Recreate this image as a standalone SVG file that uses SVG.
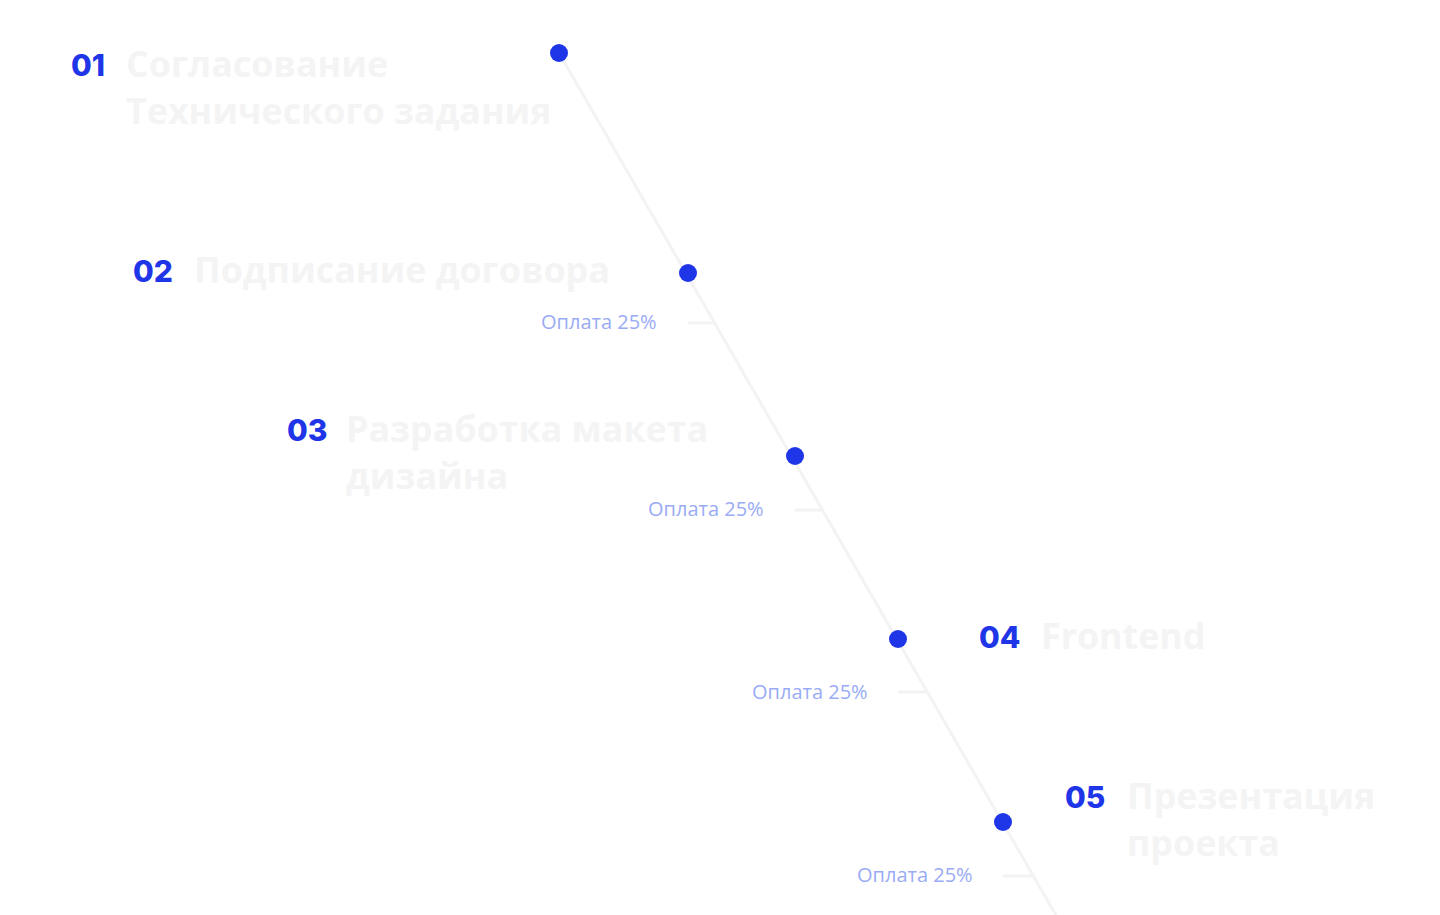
<svg xmlns="http://www.w3.org/2000/svg" width="1440" height="915" viewBox="0 0 1440 915">
<style>
.num{font-family:"Inter","Liberation Sans",sans-serif;font-weight:800;font-size:30px;fill:#1f35e8}
.title{font-family:"Open Sans","Liberation Sans",sans-serif;font-weight:700;font-size:35.8px;fill:#f4f4f4}
.pay{font-family:"Open Sans","Liberation Sans",sans-serif;font-size:20px;fill:#9aabf5}
.ln{stroke:#f3f3f3;stroke-width:3;fill:none}
.dot{fill:#1f35e8}
</style>
<rect width="1440" height="915" fill="#ffffff"/>
<g id="connectors">
<line class="ln" x1="559" y1="53" x2="1057" y2="917"/>
<line class="ln" x1="688" y1="323" x2="715" y2="323"/>
<line class="ln" x1="795" y1="510" x2="822" y2="510"/>
<line class="ln" x1="898" y1="692" x2="928" y2="692"/>
<line class="ln" x1="1003" y1="876" x2="1033" y2="876"/>
</g>
<g id="step1">
<circle class="dot" cx="559" cy="53" r="9"/>
<text class="num" x="71" y="76">01</text>
<text class="title" x="126" y="77">Согласование</text>
<text class="title" x="126" y="124">Технического задания</text>
</g>
<g id="step2">
<circle class="dot" cx="688" cy="273" r="9"/>
<text class="num" x="133" y="282">02</text>
<text class="title" x="194" y="283">Подписание договора</text>
<text class="pay" x="541" y="329">Оплата 25%</text>
</g>
<g id="step3">
<circle class="dot" cx="795" cy="456" r="9"/>
<text class="num" x="287" y="441">03</text>
<text class="title" x="346" y="442">Разработка макета</text>
<text class="title" x="346" y="489">дизайна</text>
<text class="pay" x="648" y="516">Оплата 25%</text>
</g>
<g id="step4">
<circle class="dot" cx="898" cy="639" r="9"/>
<text class="num" x="979" y="648">04</text>
<text class="title" x="1041" y="649">Frontend</text>
<text class="pay" x="752" y="699">Оплата 25%</text>
</g>
<g id="step5">
<circle class="dot" cx="1003" cy="822" r="9"/>
<text class="num" x="1065" y="808">05</text>
<text class="title" x="1127" y="809">Презентация</text>
<text class="title" x="1127" y="856">проекта</text>
<text class="pay" x="857" y="882">Оплата 25%</text>
</g>
</svg>
